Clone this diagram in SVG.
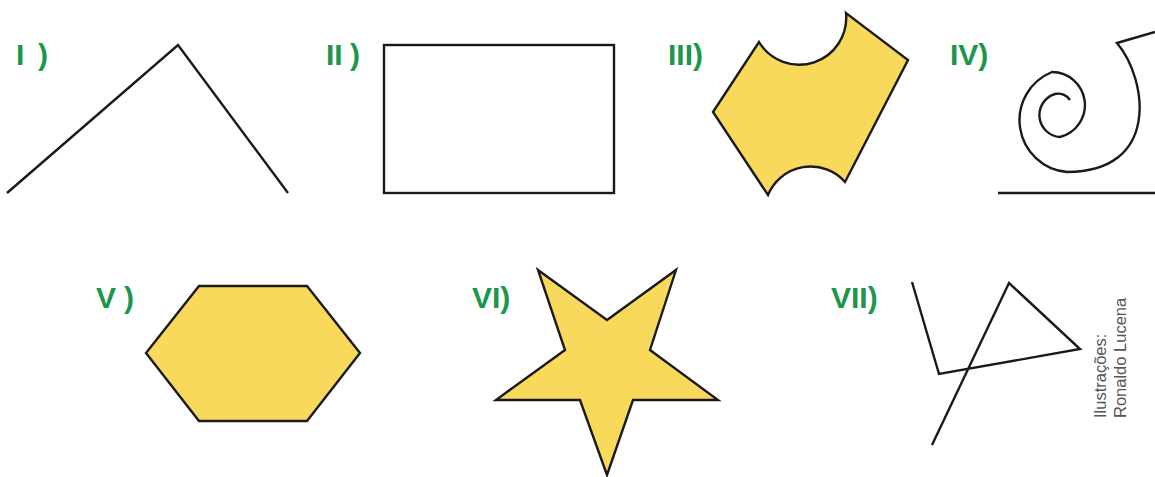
<svg xmlns="http://www.w3.org/2000/svg" width="1155" height="477" viewBox="0 0 1155 477">
<style>
.lbl{font-family:"Liberation Sans",Arial,sans-serif;font-weight:bold;font-size:30px;fill:#1c964c}
.ln{fill:none;stroke:#1a1a1a;stroke-width:2.4;stroke-linejoin:miter;stroke-linecap:butt}
.fl{fill:#f9d95c;stroke:#1a1a1a;stroke-width:2.4;stroke-linejoin:miter}
.cred{font-family:"Liberation Sans",Arial,sans-serif;font-size:16.5px;fill:#555}
</style>
<rect width="1155" height="477" fill="#fff"/>
<g id="fig1">
<text class="lbl" x="16" y="65">I <tspan x="38">)</tspan></text>
<polyline class="ln" points="7,193 178,45 288,193"/>
</g>
<g id="fig2">
<text class="lbl" x="326" y="65">II <tspan x="350">)</tspan></text>
<rect class="ln" x="384" y="45" width="230" height="148"/>
</g>
<g id="fig3">
<text class="lbl" x="668" y="65">III)</text>
<path class="fl" d="M713,112 L759,42 A47,47 0 0,0 846,13 L908,60 L845,182 A46,46 0 0,0 768,195 Z"/>
</g>
<g id="fig4">
<text class="lbl" x="950" y="65">IV)</text>
<path class="ln" d="M1155,32 L1117,43 C1148,80 1160,172 1067,172 A52,52 0 0,1 1052,72 A33,33 0 0,1 1060,137 A22,22 0 0,1 1055,94 A14,14 0 0,1 1070,100"/>
<line class="ln" x1="998" y1="193" x2="1155" y2="193"/>
</g>
<g id="fig5">
<text class="lbl" x="96" y="308">V <tspan x="124">)</tspan></text>
<polygon class="fl" points="199,286 307,286 360,353 307,421 199,421 146,353"/>
</g>
<g id="fig6">
<text class="lbl" x="472" y="308">VI)</text>
<polygon class="fl" points="538,270 607,320 676,270 650,350 718,400 633,400 607,475 580,400 496,400 565,350"/>
</g>
<g id="fig7">
<text class="lbl" x="831" y="308">VII)</text>
<polyline class="ln" points="912,282 939,374 1080,349 1009,283 932,445"/>
</g>
<g id="credit">
<text class="cred" transform="translate(1106,418) rotate(-90)">Ilustrações:</text>
<text class="cred" transform="translate(1126,418) rotate(-90)">Ronaldo Lucena</text>
</g>
</svg>
